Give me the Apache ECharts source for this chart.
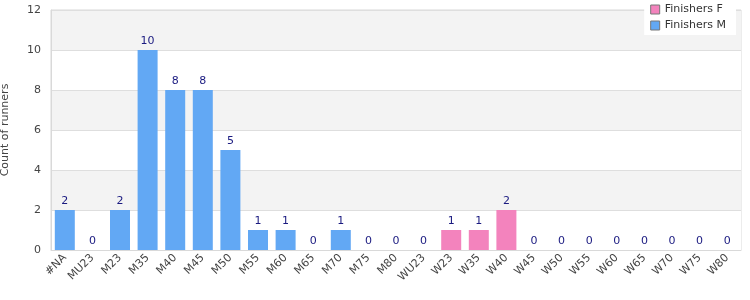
<!DOCTYPE html>
<html><head><meta charset="utf-8">
<script src="https://cdn.jsdelivr.net/npm/echarts@6/dist/echarts.min.js"></script>
<style>html,body{margin:0;padding:0;background:#fff}#c{width:750px;height:300px}</style>
</head><body><div id="c"></div>
<script>
const categories = ['#NA','MU23','M23','M35','M40','M45','M50','M55','M60','M65','M70','M75','M80','WU23','W23','W35','W40','W45','W50','W55','W60','W65','W70','W75','W80'];
const finishersM = [2,0,2,10,8,8,5,1,1,0,1,0,0,0,null,null,null,0,0,0,0,0,0,0,0];
const finishersF = [null,null,null,null,null,null,null,null,null,null,null,null,null,null,1,1,2,null,null,null,null,null,null,null,null];
const yTicks = {min:0, max:12, interval:2};

const chart = echarts.init(document.getElementById('c'), null, {renderer:'canvas'});
const font = 'DejaVu Sans';
const lbl = {show:true, position:'top', color:'#1a1a80', fontSize:11, fontFamily:font, distance:3};
chart.setOption({
  animation:false,
  textStyle:{fontFamily:font},
  grid:{left:51, right:9, top:10, bottom:50, containLabel:false, outerBoundsMode:'none', show:true, borderColor:'#d9d9d9', borderWidth:1},
  legend:{
    orient:'vertical', right:14, top:0, itemWidth:9, itemHeight:9, itemGap:5, icon:'rect',
    backgroundColor:'#fff', padding:[4,10,4,6],
    textStyle:{fontSize:11, color:'#333', fontFamily:font},
    data:[{name:'Finishers F', itemStyle:{borderColor:'#777', borderWidth:1}},
          {name:'Finishers M', itemStyle:{borderColor:'#777', borderWidth:1}}]
  },
  xAxis:{
    type:'category', data:categories,
    axisLine:{lineStyle:{color:'#d9d9d9'}}, axisTick:{show:false},
    axisLabel:{rotate:45, color:'#444', fontSize:11, fontFamily:font, interval:0, margin:6}
  },
  yAxis:{
    type:'value', min:yTicks.min, max:yTicks.max, interval:yTicks.interval,
    name:'Count of runners', nameLocation:'middle', nameGap:40,
    nameTextStyle:{color:'#444', fontSize:11, fontFamily:font},
    axisLabel:{color:'#444', fontSize:11, fontFamily:font, margin:10},
    axisLine:{show:true, lineStyle:{color:'#d9d9d9'}},
    splitLine:{show:true, lineStyle:{color:'#dedede'}},
    splitArea:{show:true, areaStyle:{color:['#ffffff','#f3f3f3']}}
  },
  series:[
    {name:'Finishers F', type:'bar', data:finishersF, barWidth:20, barGap:'-100%',
     itemStyle:{color:'#f383bd'}, label:lbl},
    {name:'Finishers M', type:'bar', data:finishersM, barWidth:20,
     itemStyle:{color:'#62a8f4'}, label:lbl}
  ]
});
</script></body></html>
